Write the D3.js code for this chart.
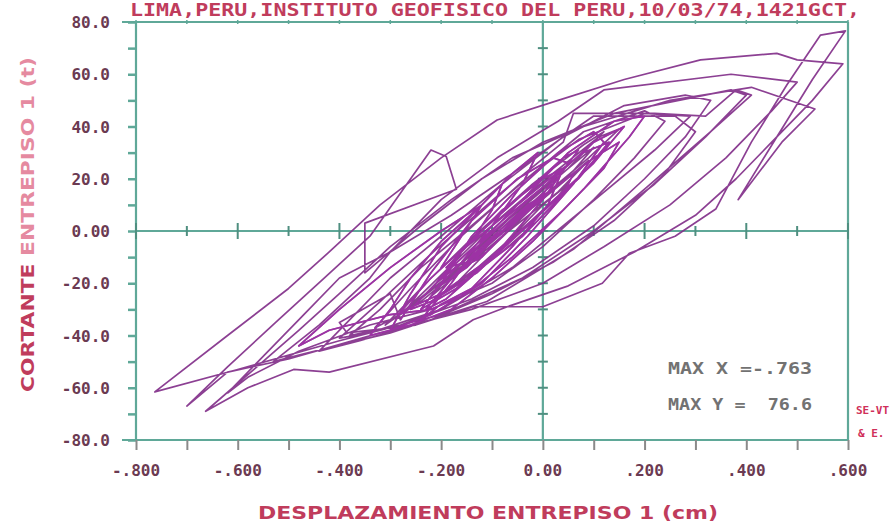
<!DOCTYPE html>
<html>
<head>
<meta charset="utf-8">
<script src="https://cdn.jsdelivr.net/npm/d3@7"></script>
<style>
  body { margin: 0; background: #fff; }
  svg { display: block; }
</style>
</head>
<body>
<svg id="chart" width="893" height="524"></svg>
<script>
// ejes
const yTicks = [-80, -60, -40, -20, 0, 20, 40, 60, 80]
const yTickLabels = ['-80.0', '-60.0', '-40.0', '-20.0', '0.00', '20.0', '40.0', '60.0', '80.0']
const xTicks = [-0.8, -0.6, -0.4, -0.2, 0, 0.2, 0.4, 0.6]
const xTickLabels = ['-.800', '-.600', '-.400', '-.200', '0.00', '.200', '.400', '.600']
const maxLabels = ['MAX X =-.763', 'MAX Y =  76.6']

// trazo histeretico: [desplazamiento (cm), cortante (t)]
const cicloInicial = [
  [-0.02, 2], [0.02, 10], [-0.01, 4], [-0.08, -8], [-0.12, -14], [-0.07, -4], [0.00, 10], [0.05, 18],
  [0.02, 11], [-0.07, -4], [-0.14, -16], [-0.18, -22], [-0.11, -8], [-0.02, 9], [0.06, 22], [0.09, 27],
  [0.03, 15], [-0.08, -2], [-0.17, -17], [-0.22, -25], [-0.15, -10], [-0.05, 8], [0.05, 24], [0.10, 32],
  [0.06, 23], [-0.04, 6], [-0.14, -11], [-0.24, -27], [-0.28, -32], [-0.19, -15], [-0.09, 4], [0.02, 22],
  [0.11, 36], [0.15, 39], [0.09, 28], [-0.02, 10], [-0.15, -12], [-0.26, -29], [-0.31, -36], [-0.23, -20],
  [-0.13, -1], [-0.02, 18], [0.08, 33], [0.12, 38], [0.05, 24], [-0.07, 4], [-0.19, -18], [-0.29, -33],
  [-0.33, -37]
]
const cicloMedio = [
  [-0.26, -22], [-0.16, -2], [-0.04, 19], [0.07, 35], [0.20, 45], [0.29, 44], [0.22, 31], [0.09, 10],
  [-0.06, -14], [-0.20, -30], [-0.34, -39], [-0.40, -41], [-0.32, -27], [-0.21, -7], [-0.08, 15], [0.04, 34],
  [0.06, 45], [0.22, 45], [0.32, 44], [0.38, 54], [0.41, 52], [0.33, 38], [0.20, 16], [0.06, -7],
  [-0.11, -27], [-0.30, -39], [-0.47, -47], [-0.53, -50], [-0.44, -36], [-0.34, -18], [-0.30, -8]
]
const cicloIntermedio = [
  [-0.18, 6], [-0.06, 22], [0.04, 36], [0.10, 44], [0.26, 44], [0.30, 38], [0.24, 22], [0.14, 4],
  [0.02, -12], [-0.10, -24], [-0.22, -34], [-0.36, -42], [-0.44, -46], [-0.38, -34], [-0.30, -18], [-0.20, -2],
  [-0.08, 18], [0.04, 36], [0.16, 48], [0.28, 52], [0.33, 50], [0.28, 36], [0.20, 20], [0.10, 2],
  [-0.02, -14], [-0.14, -26], [-0.28, -36], [-0.38, -40], [-0.32, -30], [-0.24, -14], [-0.14, 2], [-0.02, 22],
  [0.08, 38], [0.20, 46], [0.24, 42], [0.18, 28], [0.10, 12], [0.00, -6], [-0.10, -20], [-0.22, -30],
  [-0.34, -36], [-0.48, -46], [-0.58, -56], [-0.62, -62], [-0.55, -48], [-0.47, -32], [-0.40, -18], [-0.30, -8]
]
const cicloMayor = [
  [-0.20, 12], [-0.09, 28], [0.03, 42], [0.12, 54], [0.37, 60], [0.50, 57], [0.45, 46], [0.36, 28],
  [0.25, 10], [0.12, -6], [0.00, -20], [-0.14, -30], [-0.32, -39], [-0.50, -49], [-0.62, -54], [-0.70, -67],
  [-0.62, -52], [-0.52, -34], [-0.43, -18], [-0.34, -2], [-0.22, 31], [-0.19, 28.5], [-0.17, 16], [-0.35, 3],
  [-0.35, -16], [-0.24, 2], [-0.12, 20], [0.00, 34], [0.14, 45], [0.37, 54], [0.40, 52], [0.32, 36],
  [0.22, 18], [0.10, 0], [-0.04, -18], [-0.20, -32], [-0.40, -42], [-0.60, -53], [-0.763, -61.6], [-0.62, -40],
  [-0.50, -22], [-0.42, -8], [-0.32, 10], [-0.20, 28], [-0.09, 42.5], [0.03, 50], [0.16, 58], [0.31, 65.5],
  [0.46, 68], [0.50, 65.5], [0.59, 64], [0.53, 50], [0.45, 34], [0.38, 20], [0.30, 6], [0.18, -8],
  [0.05, -21], [-0.07, -29], [-0.137, -34], [-0.215, -44], [-0.42, -54], [-0.49, -53], [-0.58, -60], [-0.663, -69],
  [-0.58, -55], [-0.48, -38], [-0.40, -24], [-0.30, -6], [-0.18, 12], [-0.06, 28], [0.08, 40], [0.25, 50],
  [0.41, 55], [0.535, 46.7], [0.47, 34], [0.384, 12], [0.46, 36], [0.53, 58], [0.595, 76.6], [0.546, 75],
  [0.48, 56], [0.41, 34], [0.34, 8.4], [0.26, -2], [0.17, -8.5], [0.117, -20], [0.00, -29], [-0.137, -29],
  [-0.25, -36], [-0.385, -39], [-0.40, -35], [-0.30, -24]
]
const cicloNucleo = [
  [-0.28, -34], [-0.22, -16], [-0.14, 4], [-0.05, 20], [0.02, 28], [0.05, 26], [0.00, 12], [-0.08, -6],
  [-0.17, -22], [-0.24, -30], [-0.20, -20], [-0.14, -2], [-0.06, 14], [0.03, 30], [0.10, 38], [0.12, 34],
  [0.06, 18], [-0.03, -2], [-0.12, -20], [-0.22, -32], [-0.30, -38], [-0.26, -24], [-0.20, -6], [-0.13, 8],
  [-0.06, 22], [-0.01, 30], [-0.04, 18], [-0.10, 2], [-0.16, -12], [-0.21, -20], [-0.16, -8], [-0.08, 8],
  [0.00, 20], [0.04, 24], [0.01, 10], [-0.06, -6], [-0.14, -22], [-0.20, -28], [-0.24, -34], [-0.18, -20],
  [-0.12, -4], [-0.04, 12], [0.05, 30], [0.14, 42], [0.20, 44], [0.17, 36], [0.08, 16], [-0.02, -4],
  [-0.10, -18], [-0.18, -30], [-0.26, -36], [-0.34, -40], [-0.30, -30], [-0.26, -18], [-0.20, -4], [-0.12, 10],
  [-0.08, 18], [-0.10, 8], [-0.14, -4], [-0.19, -14], [-0.15, -12], [-0.09, -2], [-0.02, 10], [0.06, 22],
  [0.04, 14], [-0.04, -2], [-0.12, -14], [-0.19, -26], [-0.23, -30], [-0.17, -16], [-0.11, -8], [-0.05, 4],
  [0.02, 16], [0.10, 28], [0.15, 34], [0.12, 24], [0.04, 8], [-0.06, -10], [-0.15, -24], [-0.22, -30],
  [-0.30, -32], [-0.42, -38], [-0.48, -44], [-0.40, -30], [-0.30, -14], [-0.20, 0], [-0.12, 10], [-0.16, -2]
]
const cicloFinal = [
  [-0.20, -14], [-0.10, 2], [0.00, 18], [0.08, 30], [0.13, 34], [0.07, 20], [-0.03, 2], [-0.13, -16],
  [-0.22, -27], [-0.26, -30], [-0.18, -14], [-0.08, 4], [0.02, 20], [0.10, 34], [0.16, 40], [0.10, 26],
  [0.00, 8], [-0.10, -10], [-0.20, -24], [-0.28, -31], [-0.22, -18], [-0.12, 0], [-0.04, 14], [0.04, 28],
  [0.07, 31], [0.02, 18], [-0.06, 4], [-0.15, -14], [-0.21, -22], [-0.14, -8], [-0.05, 8], [0.03, 22],
  [0.00, 14], [-0.09, -2], [-0.18, -18], [-0.12, -6], [-0.03, 10], [0.02, 16], [-0.04, 6], [-0.12, -10],
  [-0.16, -14], [-0.09, -2], [-0.04, 6], [-0.08, 0], [-0.12, -6], [-0.08, -1]
]

const traza = [...cicloInicial, ...cicloMedio, ...cicloIntermedio, ...cicloMayor, ...cicloNucleo, ...cicloFinal]
const nucleo = [...cicloNucleo, ...cicloFinal]

const svg = d3.select('#chart')
const teal = '#5fa898'
const labelColor = '#6b3a52'
const titleColor = '#c03c5c'
const mono = "'DejaVu Sans Mono', monospace"

const x = d3.scaleLinear().domain([-0.8, 0.6]).range([136, 848])
const y = d3.scaleLinear().domain([-80, 80]).range([440, 22])

// titulo
svg.append('text')
  .attr('x', 130).attr('y', 16)
  .attr('textLength', 730).attr('lengthAdjust', 'spacingAndGlyphs')
  .style('font-family', mono).style('font-weight', 'bold').style('font-size', '18px')
  .style('fill', titleColor)
  .text('LIMA,PERU,INSTITUTO GEOFISICO DEL PERU,10/03/74,1421GCT,')

// marco
const frame = svg.append('g').attr('stroke', teal).attr('stroke-width', 2.2).attr('fill', 'none')
frame.append('line').attr('x1', x(-0.8)).attr('x2', x(-0.8)).attr('y1', y(80)).attr('y2', y(-80))
frame.append('line').attr('x1', x(0.6)).attr('x2', x(0.6)).attr('y1', y(80)).attr('y2', y(-80))
frame.append('line').attr('x1', x(-0.8) - 14).attr('x2', x(0.6)).attr('y1', y(80)).attr('y2', y(80))
frame.append('line').attr('x1', x(-0.8) - 14).attr('x2', x(0.6)).attr('y1', y(-80)).attr('y2', y(-80))
frame.append('line').attr('x1', x(-0.8)).attr('x2', x(0.6)).attr('y1', y(0)).attr('y2', y(0))
frame.append('line').attr('x1', x(0)).attr('x2', x(0)).attr('y1', y(80)).attr('y2', y(-80))

// eje y izquierdo
const yAxis = svg.append('g')
  .attr('transform', `translate(${x(-0.8)},0)`)
  .call(d3.axisLeft(y).tickValues(d3.range(-80, 81, 10)).tickSize(8).tickFormat(''))
yAxis.select('.domain').remove()
yAxis.selectAll('line').attr('stroke', teal).attr('stroke-width', 2.5)

svg.append('g').selectAll('text')
  .data(yTicks)
  .join('text')
  .attr('x', 110)
  .attr('y', d => y(d) + 6)
  .attr('text-anchor', 'end')
  .style('font-family', mono).style('font-weight', 'bold').style('font-size', '16px')
  .style('fill', labelColor)
  .text((d, i) => yTickLabels[i])

// eje x inferior
const xAxis = svg.append('g')
  .attr('transform', `translate(0,${y(-80)})`)
  .call(d3.axisBottom(x).tickValues(d3.range(-8, 7).map(v => v / 10)).tickSize(10).tickFormat(''))
xAxis.select('.domain').remove()
xAxis.selectAll('line').attr('stroke', '#8a8a8a').attr('stroke-width', 2)

svg.append('g').selectAll('text')
  .data(xTicks)
  .join('text')
  .attr('x', d => x(d))
  .attr('y', 476)
  .attr('text-anchor', 'middle')
  .style('font-family', mono).style('font-weight', 'bold').style('font-size', '16px')
  .style('fill', labelColor)
  .text((d, i) => xTickLabels[i])

// marcas cruzadas sobre y = 0
svg.append('g').selectAll('line')
  .data(d3.range(-8, 7).map(v => v / 10))
  .join('line')
  .attr('x1', d => x(d)).attr('x2', d => x(d))
  .attr('y1', (d, i) => y(0) - (i % 2 ? 5 : 8))
  .attr('y2', (d, i) => y(0) + (i % 2 ? 5 : 8))
  .attr('stroke', '#4f8f80').attr('stroke-width', 2)

// marcas cruzadas sobre x = 0
svg.append('g').selectAll('line')
  .data(d3.range(-70, 80, 10))
  .join('line')
  .attr('x1', x(0) - 5).attr('x2', x(0) + 5)
  .attr('y1', d => y(d)).attr('y2', d => y(d))
  .attr('stroke', '#4f8f80').attr('stroke-width', 2)

// marcas del borde superior
svg.append('g').selectAll('line')
  .data(d3.range(-8, 7).map(v => v / 10))
  .join('line')
  .attr('x1', d => x(d)).attr('x2', d => x(d))
  .attr('y1', y(80) - 2).attr('y2', y(80) + 2)
  .attr('stroke', teal).attr('stroke-width', 1.5)

// curva
const line = d3.line().x(d => x(d[0])).y(d => y(d[1]))
svg.append('path')
  .datum(traza)
  .attr('d', line)
  .attr('fill', 'none')
  .attr('stroke', '#82308a')
  .attr('stroke-width', 1.7)
  .attr('stroke-linejoin', 'round')
  .attr('opacity', 0.92)

// nucleo denso, tinta mas cargada
svg.append('path')
  .datum(nucleo)
  .attr('d', line)
  .attr('fill', 'none')
  .attr('stroke', '#a030a8')
  .attr('stroke-width', 1.6)
  .attr('stroke-linejoin', 'round')
  .attr('opacity', 0.85)

// titulos de ejes
svg.append('text')
  .attr('x', 258).attr('y', 519)
  .attr('textLength', 460).attr('lengthAdjust', 'spacingAndGlyphs')
  .style('font-family', "'DejaVu Sans', sans-serif").style('font-weight', 'bold').style('font-size', '18px')
  .style('fill', titleColor)
  .text('DESPLAZAMIENTO ENTREPISO  1 (cm)')

const yTitle = svg.append('text')
  .attr('transform', 'translate(34,392) rotate(-90)')
  .attr('textLength', 335).attr('lengthAdjust', 'spacingAndGlyphs')
  .style('font-family', "'DejaVu Sans', sans-serif").style('font-weight', 'bold').style('font-size', '17px')
yTitle.append('tspan').style('fill', titleColor).text('CORTANTE ')
yTitle.append('tspan').style('fill', '#e58aa0').text('ENTREPISO  1 (t)')

// maximos
svg.append('g').selectAll('text')
  .data(maxLabels)
  .join('text')
  .attr('x', 668)
  .attr('y', (d, i) => 374 + i * 36)
  .attr('textLength', 144).attr('lengthAdjust', 'spacingAndGlyphs')
  .style('font-family', mono).style('font-weight', 'bold').style('font-size', '15px')
  .style('fill', '#727272')
  .style('white-space', 'pre')
  .text(d => d)

// sello recortado a la derecha
svg.append('text')
  .attr('x', 856).attr('y', 414)
  .style('font-family', mono).style('font-weight', 'bold').style('font-size', '11px')
  .style('fill', '#d0305a')
  .text('SE-VT')
svg.append('text')
  .attr('x', 858).attr('y', 437)
  .style('font-family', mono).style('font-weight', 'bold').style('font-size', '11px')
  .style('fill', '#d0305a')
  .text('& E.')
</script>
</body>
</html>
